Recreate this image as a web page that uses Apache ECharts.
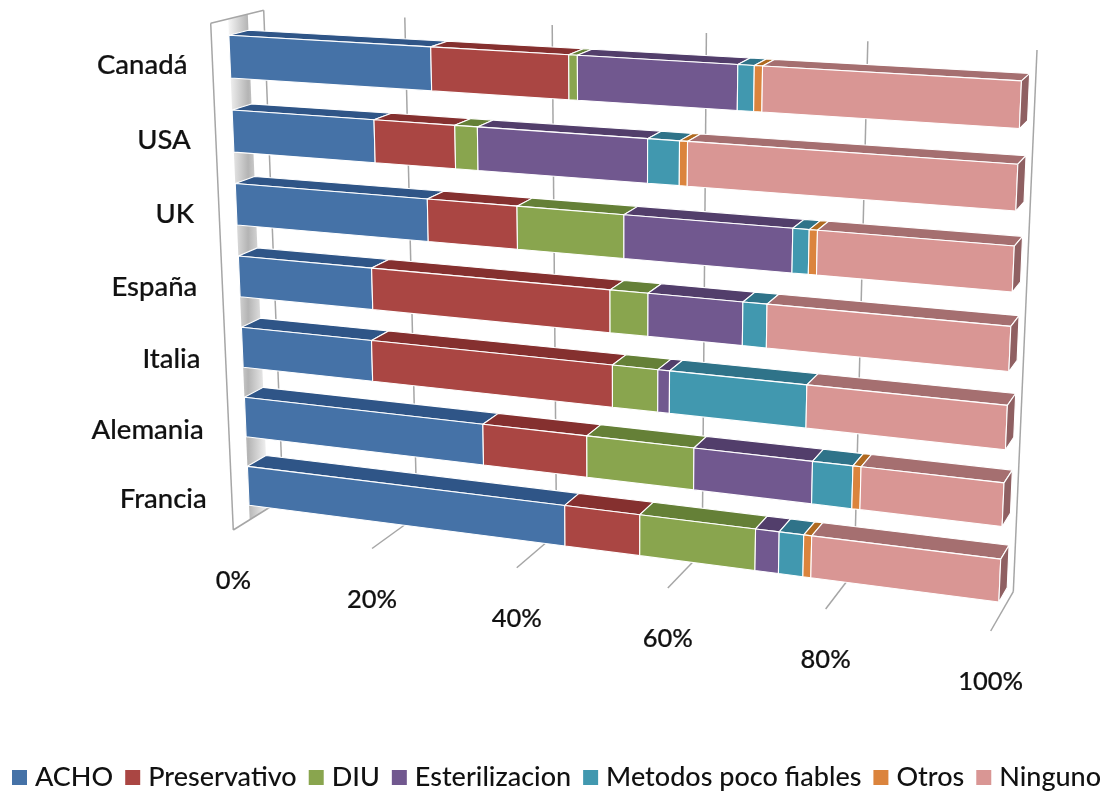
<!DOCTYPE html>
<html>
<head>
<meta charset="utf-8">
<style>html,body{margin:0;padding:0;background:#fff}#chart{width:1110px;height:791px}</style>
<script src="https://cdn.jsdelivr.net/npm/echarts@6/dist/echarts.min.js"></script>
</head>
<body>
<div id="chart"></div>
<script>
// Uso de métodos anticonceptivos por país (% de mujeres)
const categories = ['Canadá', 'USA', 'UK', 'España', 'Italia', 'Alemania', 'Francia'];
const percentTicks = [0, 20, 40, 60, 80, 100];

const acho           = [27.7, 19.8, 26.8, 18.9, 18.6, 33.8, 44.8];
const preservativo   = [18.0, 10.9, 12.0, 32.0, 32.6, 14.0, 10.0];
const diu            = [1.1, 3.0, 13.9, 4.9, 5.9, 14.0, 15.0];
const esterilizacion = [20.0, 22.0, 21.1, 12.0, 1.5, 15.0, 3.0];
const metodos        = [2.0, 4.0, 2.0, 3.0, 17.3, 5.0, 3.1];
const otros          = [1.0, 1.0, 1.0, 0, 0, 1.0, 1.0];
const ninguno        = [30.2, 39.3, 23.2, 29.2, 24.1, 17.2, 23.1];

const seriesNames = ['ACHO', 'Preservativo', 'DIU', 'Esterilizacion', 'Metodos poco fiables', 'Otros', 'Ninguno'];
const seriesValues = [acho, preservativo, diu, esterilizacion, metodos, otros, ninguno];
const faceColors = ['#4572a7', '#aa4643', '#89a54e', '#71588f', '#4198af', '#db843d', '#d99694'];
const topColors  = ['#2f5587', '#85302f', '#658037', '#523e6b', '#2f7389', '#b06a20', '#a56f70'];
const endColor = '#8f6062';

// Perspective box of the chart: near and far planes, corners TL, TR, BR, BL.
const nearPlane = [[210.7, 23.3], [1015, 69], [990.7, 631], [233.3, 530]];
const farPlane  = [[263.7, 10.3], [1037, 50], [1013.3, 591.7], [283, 499]];
const barDepth = [0.33, 0.7];
const barFraction = 0.57;

function squareToQuad(q) {
  const [[x0, y0], [x1, y1], [x2, y2], [x3, y3]] = q;
  const dx1 = x1 - x2, dx2 = x3 - x2, sx = x0 - x1 + x2 - x3;
  const dy1 = y1 - y2, dy2 = y3 - y2, sy = y0 - y1 + y2 - y3;
  const den = dx1 * dy2 - dx2 * dy1;
  const g = (sx * dy2 - dx2 * sy) / den;
  const h = (dx1 * sy - sx * dy1) / den;
  const a = x1 - x0 + g * x1, b = x3 - x0 + h * x3;
  const d = y1 - y0 + g * y1, e = y3 - y0 + h * y3;
  return (s, t) => {
    const w = g * s + h * t + 1;
    return [(a * s + b * t + x0) / w, (d * s + e * t + y0) / w];
  };
}
const nearMap = squareToQuad(nearPlane);
const farMap = squareToQuad(farPlane);

// Grid pixel (from the axes) + depth -> page pixel inside the perspective box.
function project(params, pixel, depth) {
  const r = params.coordSys;
  const s = (pixel[0] - r.x) / r.width;
  const t = (pixel[1] - r.y) / r.height;
  const a = nearMap(s, t), b = farMap(s, t);
  return [a[0] + (b[0] - a[0]) * depth, a[1] + (b[1] - a[1]) * depth];
}

const stroke = { stroke: '#ffffff', lineWidth: 1.1, lineJoin: 'round' };
const wallLine = { stroke: '#a6a6a6', lineWidth: 1.5, fill: null };

function poly(points, fill) {
  return { type: 'polygon', shape: { points }, style: Object.assign({ fill }, stroke) };
}
function line(a, b) {
  return { type: 'line', shape: { x1: a[0], y1: a[1], x2: b[0], y2: b[1] }, style: wallLine };
}

function renderSegment(index) {
  return function (params, api) {
    const start = api.value(0), end = api.value(1), cat = api.value(2);
    if (end <= start) return null;
    const band = api.size([0, 1])[1] * barFraction / 2;
    const a = api.coord([start, cat]), b = api.coord([end, cat]);
    const corner = (px, sign, depth) => project(params, [px[0], px[1] + sign * band], depth);
    const [z0, z1] = barDepth;
    const children = [
      poly([corner(a, -1, z0), corner(b, -1, z0), corner(b, -1, z1), corner(a, -1, z1)], topColors[index]),
      poly([corner(a, -1, z0), corner(b, -1, z0), corner(b, 1, z0), corner(a, 1, z0)], faceColors[index])
    ];
    if (end >= 99.99) {
      children.push(poly([corner(b, -1, z0), corner(b, -1, z1), corner(b, 1, z1), corner(b, 1, z0)], endColor));
    }
    return { type: 'group', children };
  };
}

// Walls, floor lines and the percentage labels along the front of the floor.
function renderFrame(params, api) {
  const value = api.value(0);
  const r = params.coordSys;
  const top = [api.coord([value, 0])[0], r.y];
  const bottom = [top[0], r.y + r.height];
  const children = [
    line(project(params, top, 1), project(params, bottom, 1)),
    line(project(params, bottom, 0), project(params, bottom, 1))
  ];
  if (value === 0) {
    children.push(line(project(params, top, 0), project(params, bottom, 0)));
    children.push(line(project(params, top, 0), project(params, top, 1)));
    const strip = [[top, barDepth[0]], [top, barDepth[1]], [bottom, barDepth[1]], [bottom, barDepth[0]]]
      .map(p => project(params, p[0], p[1]));
    children.unshift({
      type: 'polygon',
      shape: { points: strip },
      style: {
        fill: new echarts.graphic.LinearGradient(0, 0, 1, 0, [
          { offset: 0, color: '#f6f6f6' },
          { offset: 0.5, color: '#b4b4b4' },
          { offset: 1, color: '#f6f6f6' }
        ])
      }
    });
  }
  const anchor = project(params, bottom, 0);
  children.push({
    type: 'text',
    style: {
      x: anchor[0], y: anchor[1] + 51, text: value + '%',
      align: 'center', verticalAlign: 'middle',
      font: '500 25.5px Lato', fill: '#111', stroke: '#111', lineWidth: 0.2
    }
  });
  return { type: 'group', children };
}

function renderCategoryLabel(params, api) {
  const cat = api.value(0);
  const anchor = project(params, api.coord([0, cat]), 0);
  return {
    type: 'text',
    style: {
      x: anchor[0] - 25, y: anchor[1] + 3.5, text: categories[cat],
      align: 'right', verticalAlign: 'middle',
      font: '500 27.5px Lato', fill: '#111', stroke: '#111', lineWidth: 0.2
    }
  };
}

const barSeries = seriesNames.map((name, i) => ({
  type: 'custom',
  name,
  coordinateSystem: 'cartesian2d',
  itemStyle: { color: faceColors[i] },
  renderItem: renderSegment(i),
  encode: { x: [0, 1], y: 2 },
  z: 3,
  data: categories.map((_, c) => {
    const before = seriesValues.slice(0, i).reduce((sum, s) => sum + s[c], 0);
    return [before, before + seriesValues[i][c], c];
  })
}));

const chart = echarts.init(document.getElementById('chart'));
chart.setOption({
  animation: false,
  backgroundColor: '#ffffff',
  grid: { left: 0, right: 0, top: 0, bottom: 0 },
  xAxis: { type: 'value', min: 0, max: 100, interval: 20, show: false },
  yAxis: { type: 'category', data: categories, inverse: true, show: false },
  legend: {
    data: seriesNames,
    left: 7, top: 759,
    icon: 'rect', itemWidth: 15, itemHeight: 15, itemGap: 12,
    textStyle: { fontFamily: 'Lato', fontWeight: 500, fontSize: 27, color: '#111', padding: [0, 0, 0, 3] }
  },
  series: [
    {
      type: 'custom', name: 'frame', coordinateSystem: 'cartesian2d', silent: true, z: 1,
      renderItem: renderFrame, encode: { x: 0 }, data: percentTicks.map(v => [v])
    },
    ...barSeries,
    {
      type: 'custom', name: 'labels', coordinateSystem: 'cartesian2d', silent: true, z: 4,
      renderItem: renderCategoryLabel, encode: { y: 0 }, data: categories.map((_, c) => [c])
    }
  ]
});
</script>
</body>
</html>
